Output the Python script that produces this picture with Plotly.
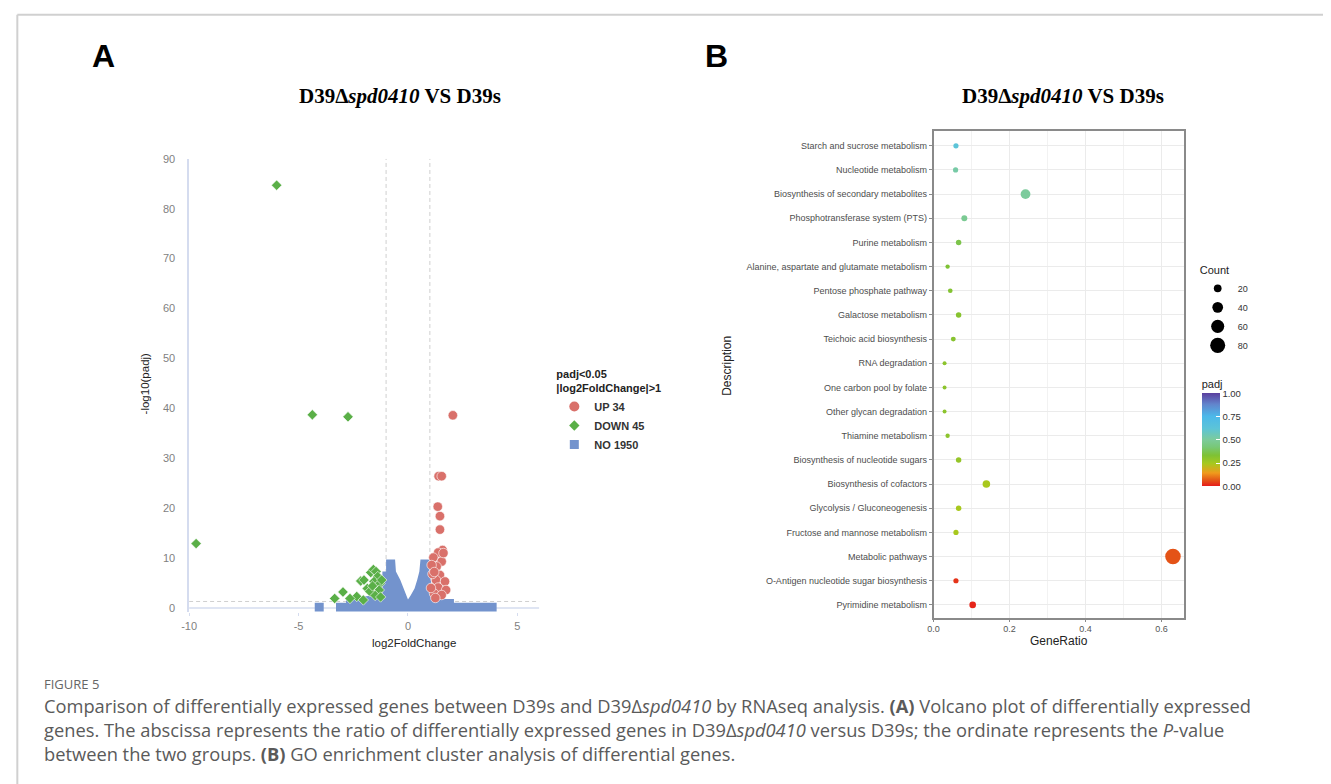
import plotly.graph_objects as go
import math

W, H = 1331, 784
# empirical mapping from figure pixels to the photographed page
AX, BX = 0.9934, 16.0
AY, BY = 0.9928, 13.0

def px(x):
    return ((x - BX) / AX) / W

def py(y):
    return 1 - ((y - BY) / AY) / H

# ---------------- Panel A data (volcano) ----------------
up_label = "UP 34"
down_label = "DOWN 45"
no_label = "NO 1950"

up_x = [2.05, 1.40, 1.54, 1.36, 1.46, 1.46, 1.58, 1.38, 1.16, 1.54, 1.31, 1.08, 1.46,
        1.28, 1.69, 1.38, 1.74, 1.19, 1.54, 1.12, 1.25, 1.05, 1.62, 1.20]
up_y = [38.6, 26.4, 26.4, 20.3, 18.4, 15.7, 11.6, 11.1, 10.1, 9.3, 8.3, 8.6, 6.6,
        5.6, 5.3, 4.1, 3.6, 2.9, 2.6, 6.8, 2.0, 4.0, 11.0, 7.2]

down_x = [-6.0, -4.37, -2.74, -9.68, -3.35, -2.97, -2.34, -2.16, -2.01, -1.86, -1.70,
          -1.58, -1.46, -1.38, -1.55, -1.28, -1.74, -1.31, -1.20, -2.04, -2.65, -1.50,
          -1.25, -1.62]
down_y = [84.7, 38.7, 38.3, 12.9, 1.9, 3.2, 2.3, 5.4, 5.6, 3.9, 7.1,
          7.7, 7.3, 6.3, 5.3, 4.9, 3.3, 3.6, 5.6, 1.6, 1.9, 2.5,
          2.2, 4.4]

# outline of the dense block of non-significant genes
no_x = [-3.29, -3.29, -2.83, -2.83, -2.0, -1.5, -1.17, -1.17, -1.0, -1.0, -0.59, -0.55,
        -0.35, -0.2, -0.08, 0.0, 0.12, 0.3, 0.42, 0.52, 0.57, 0.97, 0.98, 1.08, 1.18,
        1.2, 2.1, 2.1, 4.05, 4.05, -3.29, None,
        -4.26, -4.26, -3.85, -3.85, -4.26]
no_y = [-0.73, 1.07, 1.07, 2.1, 2.3, 2.6, 3.0, 7.3, 7.3, 9.7, 9.7, 7.3,
        5.6, 3.9, 2.3, 1.7, 2.5, 3.9, 5.6, 7.3, 9.7, 9.7, 7.0, 4.5, 2.2,
        1.8, 1.8, 1.07, 1.07, -0.73, -0.73, None,
        -0.73, 1.07, 1.07, -0.73, -0.73]

padj_cut = 1.3      # -log10(0.05)
fc_cut = [-1, 1]
x_ticks = [-10, -5, 0, 5]
x_ticklabels = ["-10", "-5", "0", "5"]
y_ticks = [0, 10, 20, 30, 40, 50, 60, 70, 80, 90]

# ---------------- Panel B data (enrichment) ----------------
terms = ["Starch and sucrose metabolism", "Nucleotide metabolism",
         "Biosynthesis of secondary metabolites", "Phosphotransferase system (PTS)",
         "Purine metabolism", "Alanine, aspartate and glutamate metabolism",
         "Pentose phosphate pathway", "Galactose metabolism", "Teichoic acid biosynthesis",
         "RNA degradation", "One carbon pool by folate", "Other glycan degradation",
         "Thiamine metabolism", "Biosynthesis of nucleotide sugars",
         "Biosynthesis of cofactors", "Glycolysis / Gluconeogenesis",
         "Fructose and mannose metabolism", "Metabolic pathways",
         "O-Antigen nucleotide sugar biosynthesis", "Pyrimidine metabolism"]
gene_ratio = [0.059, 0.058, 0.242, 0.081, 0.066, 0.037, 0.044, 0.066, 0.052, 0.029,
              0.029, 0.029, 0.037, 0.066, 0.139, 0.066, 0.059, 0.630, 0.059, 0.103]
counts = [8, 8, 33, 11, 9, 5, 6, 9, 7, 4, 4, 4, 5, 9, 19, 9, 8, 85, 8, 14]
padj = [0.62, 0.52, 0.50, 0.48, 0.36, 0.33, 0.32, 0.31, 0.31, 0.30, 0.30, 0.30, 0.30,
        0.28, 0.24, 0.24, 0.24, 0.06, 0.025, 0.01]
count_legend = [20, 40, 60, 80]
padj_ticks = [0, 0.25, 0.5, 0.75, 1.0]
gr_ticks = [0.0, 0.2, 0.4, 0.6]

colorscale = [[0.00, "#e61c1a"], [0.07, "#e45c17"], [0.14, "#f09a1c"],
              [0.24, "#a8c81e"], [0.33, "#7ec234"], [0.42, "#78c878"],
              [0.50, "#7ccb9c"], [0.62, "#5cc4d8"], [0.75, "#4cb8ea"],
              [0.88, "#6284cc"], [1.00, "#5b3f9e"]]

cmin_c, cmax_c = min(counts), max(counts)
def dot(c):
    return math.sqrt(16 + (c - cmin_c) / (cmax_c - cmin_c) * (240 - 16))

fig = go.Figure()

# ---------- volcano ----------
fig.add_trace(go.Scatter(x=no_x, y=no_y, mode="lines", fill="toself",
                         fillcolor="#7393cd", line=dict(width=0, color="#7393cd"),
                         showlegend=False, hoverinfo="skip", xaxis="x", yaxis="y"))
fig.add_trace(go.Scatter(x=down_x, y=down_y, mode="markers", showlegend=False,
                         marker=dict(symbol="diamond", size=8, color="#5aaf47",
                                     line=dict(width=0.6, color="white")),
                         xaxis="x", yaxis="y"))
fig.add_trace(go.Scatter(x=up_x, y=up_y, mode="markers", showlegend=False,
                         marker=dict(symbol="circle", size=9.5, color="#d9706a",
                                     line=dict(width=0.6, color="white")),
                         xaxis="x", yaxis="y"))
# legend entries
for lab, sym, col, sz in [(up_label, "circle", "#d9706a", 10),
                          (down_label, "diamond", "#5aaf47", 8),
                          (no_label, "square", "#7393cd", 9)]:
    fig.add_trace(go.Scatter(x=[None], y=[None], mode="markers", name="<b>%s</b>" % lab,
                             marker=dict(symbol=sym, size=sz, color=col),
                             legend="legend", xaxis="x", yaxis="y"))

# ---------- enrichment ----------
fig.add_trace(go.Scatter(x=gene_ratio, y=terms, mode="markers", showlegend=False,
                         marker=dict(size=[dot(c) for c in counts], color=padj,
                                     colorscale=colorscale, cmin=0, cmax=1, opacity=1,
                                     line=dict(width=0),
                                     colorbar=dict(x=px(1201), xanchor="left",
                                                   y=py(376), yanchor="top",
                                                   lenmode="pixels", len=110, ypad=0, xpad=0,
                                                   thickness=18, outlinewidth=0,
                                                   tickvals=padj_ticks,
                                                   ticktext=["%.2f" % v for v in padj_ticks],
                                                   ticks="inside", ticklen=4,
                                                   tickcolor="white",
                                                   tickfont=dict(family="Liberation Sans", size=9.5, color="#333"),
                                                   title=dict(text="padj", side="top",
                                                              font=dict(family="Liberation Sans", size=11, color="#222")))),
                         xaxis="x2", yaxis="y2"))
for c in count_legend:
    fig.add_trace(go.Scatter(x=[None], y=[None], mode="markers", name=str(c),
                             marker=dict(size=dot(c), color="black"),
                             legend="legend2", xaxis="x2", yaxis="y2"))

axis_blue = "#d5dcef"
fig.update_layout(
    width=W, height=H, margin=dict(l=0, r=0, t=0, b=0),
    paper_bgcolor="white", plot_bgcolor="white",
    font=dict(family="Liberation Sans", color="#333"),
    xaxis=dict(domain=[px(189), px(539)], range=[-10, 6], tickvals=x_ticks,
               ticktext=x_ticklabels,
               showgrid=False, zeroline=False, showline=False, ticks="outside",
               ticklen=3, tickcolor=axis_blue,
               tickfont=dict(size=11, color="#7f7f7f", family="Liberation Sans")),
    yaxis=dict(domain=[py(612.5), py(158)], range=[-0.9, 90], tickvals=y_ticks,
               showgrid=False, zeroline=False, showline=True, linecolor=axis_blue,
               linewidth=1.5, ticks="", ticklabelstandoff=10,
               tickfont=dict(size=11, color="#7f7f7f", family="Liberation Sans")),
    xaxis2=dict(domain=[px(933), px(1183.3)], range=[0, 0.659], tickvals=gr_ticks,
                ticktext=["%.1f" % v for v in gr_ticks],
                showgrid=True, gridcolor="#ebebeb", gridwidth=1,
                minor=dict(dtick=0.1, tick0=0, showgrid=True, gridcolor="#f2f2f2", gridwidth=0.6),
                zeroline=False, showline=True, mirror=True, linecolor="#8a8a8a",
                linewidth=1.5, ticks="outside", ticklen=2, tickcolor="#8a8a8a",
                tickfont=dict(size=9, color="#555"), anchor="y2"),
    yaxis2=dict(domain=[py(618), py(130)], type="category",
                categoryorder="array", categoryarray=terms[::-1],
                range=[-0.54, 19.62], showgrid=True, gridcolor="#ebebeb", gridwidth=1,
                zeroline=False, showline=True, mirror=True, linecolor="#8a8a8a",
                linewidth=1.5, ticks="outside", ticklen=3, tickcolor="#8a8a8a",
                tickfont=dict(size=9, color="#4d4d4d"), anchor="x2"),
    legend=dict(x=px(554), y=py(363), xanchor="left", yanchor="top",
                bgcolor="rgba(0,0,0,0)", itemsizing="trace", itemwidth=30,
                font=dict(size=11, color="#333", family="Liberation Sans"),
                title=dict(text="<b>padj<0.05<br>|log2FoldChange|>1</b>",
                           font=dict(size=11, color="#222", family="Liberation Sans")),
                tracegroupgap=0),
    legend2=dict(x=px(1197), y=py(259), xanchor="left", yanchor="top",
                 bgcolor="rgba(0,0,0,0)", itemsizing="trace", itemwidth=30,
                 font=dict(size=9, color="#333", family="Liberation Sans"),
                 title=dict(text="Count", font=dict(size=11, color="#222", family="Liberation Sans"))),
)

shapes = []
# frame
shapes.append(dict(type="line", xref="paper", yref="paper", x0=0.001, x1=0.001, y0=0, y1=0.999,
                   line=dict(color="#d0d0d0", width=2)))
shapes.append(dict(type="line", xref="paper", yref="paper", x0=0.001, x1=1, y0=0.999, y1=0.999,
                   line=dict(color="#d0d0d0", width=2)))
# thresholds
for v in fc_cut:
    shapes.append(dict(type="line", xref="x", yref="y", x0=v, x1=v, y0=0, y1=90,
                       line=dict(color="#cfcfcf", width=1, dash="4px,3px"), layer="below"))
shapes.append(dict(type="line", xref="x", yref="y", x0=-10, x1=6, y0=padj_cut, y1=padj_cut,
                   line=dict(color="#cfcfcf", width=1, dash="4px,3px"), layer="below"))
# x axis line at y=0
shapes.append(dict(type="line", xref="x", yref="y", x0=-10, x1=6, y0=0, y1=0,
                   line=dict(color=axis_blue, width=1.5), layer="below"))
fig.update_layout(shapes=shapes)

ann = []
title_html = "<b>D39Δ<i>spd0410</i> VS D39s</b>"
ann.append(dict(x=px(103), y=py(55), text="<b>A</b>", font=dict(family="Liberation Sans", size=32, color="black")))
ann.append(dict(x=px(716), y=py(55), text="<b>B</b>", font=dict(family="Liberation Sans", size=32, color="black")))
ann.append(dict(x=px(400), y=py(95), text=title_html, font=dict(family="Liberation Serif", size=21, color="black")))
ann.append(dict(x=px(1062), y=py(95), text=title_html, font=dict(family="Liberation Serif", size=21, color="black")))
ann.append(dict(x=px(414), y=py(643), text="log2FoldChange", font=dict(size=11.5, color="#222")))
ann.append(dict(x=px(145), y=py(383), text="-log10(padj)", textangle=-90, font=dict(size=11.5, color="#222")))
ann.append(dict(x=px(1058), y=py(641), text="GeneRatio", font=dict(size=12, color="#222")))
ann.append(dict(x=px(727), y=py(365), text="Description", textangle=-90, font=dict(size=12, color="#222")))

cap_font = "Open Sans"
ann.append(dict(x=px(42), y=py(684), xanchor="left", text="FIGURE 5",
                font=dict(family=cap_font, size=13, color="#666")))
cap_lines = [
    "Comparison of differentially expressed genes between D39s and D39Δ<i>spd0410</i> by RNAseq analysis. <b>(A)</b> Volcano plot of differentially expressed",
    "genes. The abscissa represents the ratio of differentially expressed genes in D39Δ<i>spd0410</i> versus D39s; the ordinate represents the <i>P</i>-value",
    "between the two groups. <b>(B)</b> GO enrichment cluster analysis of differential genes.",
]
for i, line in enumerate(cap_lines):
    ann.append(dict(x=px(42), y=py(706 + 24 * i), xanchor="left", text=line,
                    font=dict(family=cap_font, size=18.3, color="#5a5a5a")))
for a in ann:
    a.update(xref="paper", yref="paper", showarrow=False)
    a.setdefault("xanchor", "center")
    a.setdefault("yanchor", "middle")
fig.update_layout(annotations=ann)

fig.write_html("out.html")
